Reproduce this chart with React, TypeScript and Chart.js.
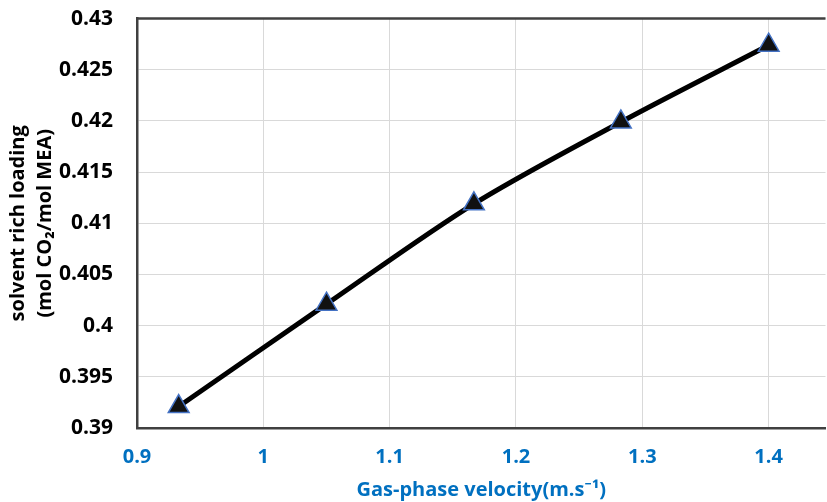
import React, { useEffect, useRef } from "react";
import { Chart, registerables } from "chart.js";

Chart.register(...registerables);

const velocities = [0.933, 1.05, 1.1667, 1.283, 1.4];
const richLoading = [0.3921, 0.4021, 0.4119, 0.4199, 0.4274];
const xTickValues = [0.9, 1.0, 1.1, 1.2, 1.3, 1.4];
const yTitleLines = ["solvent rich loading", "(mol CO₂/mol MEA)"];
const xTitle = "Gas-phase velocity(m.s⁻¹)";

const FONT = "'Open Sans', 'Noto Sans', sans-serif";

const frame = {
  id: "frame",
  afterDraw(chart: any) {
    const { ctx, chartArea } = chart;
    ctx.save();
    ctx.strokeStyle = "#404040";
    ctx.lineWidth = 2.5;
    ctx.beginPath();
    ctx.moveTo(chartArea.left - 1, chartArea.top);
    ctx.lineTo(chartArea.right, chartArea.top);
    ctx.stroke();
    ctx.restore();
  },
};

export default function App() {
  const ref = useRef<HTMLCanvasElement | null>(null);
  useEffect(() => {
    if (!ref.current) return;
    const chart = new Chart(ref.current, {
      type: "line",
      data: {
        datasets: [
          {
            data: velocities.map((v, i) => ({ x: v, y: richLoading[i] })),
            borderColor: "#000000",
            borderWidth: 5,
            tension: 0.3,
            pointStyle: "triangle",
            pointRadius: 12,
            pointBackgroundColor: "#111111",
            pointBorderColor: "#4472C4",
            pointBorderWidth: 1.5,
          },
        ],
      },
      plugins: [frame],
      options: {
        animation: false,
        responsive: false,
        maintainAspectRatio: false,
        layout: { padding: 0 },
        plugins: { legend: { display: false }, tooltip: { enabled: false } },
        scales: {
          x: {
            type: "linear",
            min: 0.9,
            max: 1.445,
            afterBuildTicks: (scale: any) => {
              scale.ticks = xTickValues.map((v) => ({ value: v }));
            },
            afterFit: (scale: any) => {
              scale.height = 74;
            },
            grid: { color: "#d9d9d9", lineWidth: 1, drawTicks: false },
            border: { color: "#404040", width: 2.5 },
            ticks: {
              padding: 17,
              color: "#0070C0",
              font: { family: FONT, size: 20, weight: "bold" },
              callback: (v: any) => String(Math.round(Number(v) * 10) / 10),
            },
            title: {
              display: true,
              text: xTitle,
              color: "#0070C0",
              font: { family: FONT, size: 20, weight: "bold" },
              padding: { top: 0, bottom: 0 },
            },
          },
          y: {
            type: "linear",
            min: 0.39,
            max: 0.43,
            afterFit: (scale: any) => {
              scale.width = 137;
            },
            grid: { color: "#d9d9d9", lineWidth: 1, drawTicks: false },
            border: { color: "#404040", width: 2.5 },
            ticks: {
              stepSize: 0.005,
              padding: 24,
              color: "#000000",
              font: { family: FONT, size: 21, weight: "bold" },
              callback: (v: any) => String(Math.round(Number(v) * 1000) / 1000),
            },
            title: {
              display: true,
              text: yTitleLines,
              color: "#000000",
              font: { family: FONT, size: 20, weight: "bold", lineHeight: 1.35 },
              padding: { top: 5, bottom: 0 },
            },
          },
        },
      },
    } as any);
    return () => chart.destroy();
  }, []);
  return (
    <div style={{ position: "fixed", left: 0, top: 0, width: 827, height: 502, overflow: "hidden", background: "#fff" }}>
      <canvas
        ref={ref}
        width={839}
        height={520}
        style={{ display: "block", position: "absolute", left: 0, top: -18 }}
      />
    </div>
  );
}
